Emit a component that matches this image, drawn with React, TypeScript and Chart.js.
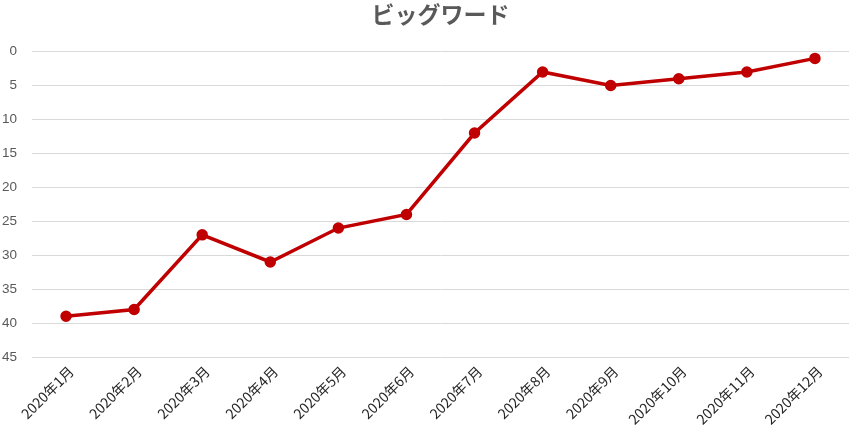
import React, { useEffect, useRef } from "react";
import { Chart, registerables } from "chart.js";

Chart.register(...registerables);

const categories: string[] = [
  "2020年1月", "2020年2月", "2020年3月", "2020年4月", "2020年5月", "2020年6月",
  "2020年7月", "2020年8月", "2020年9月", "2020年10月", "2020年11月", "2020年12月",
];
const ranks: number[] = [39, 38, 27, 31, 26, 24, 12, 3, 5, 4, 3, 1];
const title = "ビッグワード";
const yMin = 0;
const yMax = 45;
const yStep = 5;

export default function App() {
  const ref = useRef<HTMLCanvasElement | null>(null);
  useEffect(() => {
    if (!ref.current) return;
    const chart = new Chart(ref.current, {
      type: "line",
      data: {
        labels: categories,
        datasets: [
          {
            label: title,
            data: ranks,
            borderColor: "#C00000",
            backgroundColor: "#C00000",
            borderWidth: 3.5,
            pointRadius: 4,
            pointHoverRadius: 4,
            pointBackgroundColor: "#C00000",
            pointBorderColor: "#C00000",
            tension: 0,
          },
        ],
      },
      options: {
        animation: false,
        responsive: false,
        maintainAspectRatio: false,
        layout: { padding: { left: 0, right: 12, top: 0, bottom: 0 } },
        plugins: {
          legend: { display: false },
          tooltip: { enabled: false },
          title: {
            display: true,
            fullSize: false,
            text: title,
            color: "#595959",
            font: { family: "'Noto Sans CJK JP', sans-serif", size: 23, weight: "bold", lineHeight: 1.2 },
            padding: { top: 0, bottom: 24 },
          },
        },
        scales: {
          x: {
            offset: true,
            grid: { display: false, drawTicks: false },
            border: { display: false },
            ticks: {
              autoSkip: false,
              maxRotation: 45,
              minRotation: 45,
              padding: 6,
              labelOffset: 5,
              color: "#262626",
              font: { family: "'Noto Sans CJK JP', sans-serif", size: 14 },
            },
            afterFit: (s: any) => {
              s.height = 89;
            },
          },
          y: {
            reverse: true,
            min: yMin,
            max: yMax,
            grid: { color: "#d9d9d9", lineWidth: 1, drawTicks: false },
            border: { display: false },
            ticks: {
              stepSize: yStep,
              padding: 15,
              color: "#595959",
              font: { family: "'Liberation Sans', sans-serif", size: 13.5 },
            },
            afterFit: (s: any) => {
              s.width = 32;
            },
          },
        },
      },
    });
    return () => chart.destroy();
  }, []);
  return (
    <div style={{ position: "fixed", left: 0, top: 0, width: 861, height: 446, background: "#fff" }}>
      <canvas ref={ref} width={861} height={446} style={{ width: 861, height: 446 }} />
    </div>
  );
}
